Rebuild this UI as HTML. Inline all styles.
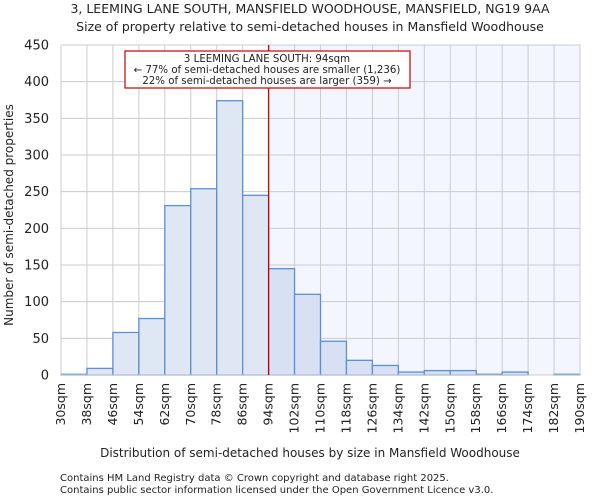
<!DOCTYPE html>
<html><head><meta charset="utf-8"><style>
body{margin:0;background:#fff;font-family:"DejaVu Sans","Liberation Sans",sans-serif;}
svg text{font-family:"DejaVu Sans","Liberation Sans",sans-serif;fill:#222;}
</style></head><body>
<svg id="chart" width="600" height="500">
<text x="310" y="13" font-size="12.5" text-anchor="middle">3, LEEMING LANE SOUTH, MANSFIELD WOODHOUSE, MANSFIELD, NG19 9AA</text>
<text x="310" y="31" font-size="12.5" text-anchor="middle">Size of property relative to semi-detached houses in Mansfield Woodhouse</text>
<g id="plot"></g>
<text x="310" y="457" font-size="12" text-anchor="middle">Distribution of semi-detached houses by size in Mansfield Woodhouse</text>
<text transform="translate(13,215) rotate(-90)" font-size="12" text-anchor="middle">Number of semi-detached properties</text>
<text x="60" y="481" font-size="10">Contains HM Land Registry data © Crown copyright and database right 2025.</text>
<text x="60" y="493" font-size="10">Contains public sector information licensed under the Open Government Licence v3.0.</text>
</svg>
<script>
const binStarts=[30,38,46,54,62,70,78,86,94,102,110,118,126,134,142,150,158,166,174,182];
const counts=[1,9,58,77,231,254,374,245,145,110,46,20,13,4,6,6,1,4,0,1];
const xTicks=["30sqm","38sqm","46sqm","54sqm","62sqm","70sqm","78sqm","86sqm","94sqm","102sqm","110sqm","118sqm","126sqm","134sqm","142sqm","150sqm","158sqm","166sqm","174sqm","182sqm","190sqm"];
const yTicks=[0,50,100,150,200,250,300,350,400,450];
const propertySize=94;
const binWidth=8;
const L=61,R=580,T=45,B=375,xMin=30,xMax=190,yMax=450;
const X=v=>L+(v-xMin)/(xMax-xMin)*(R-L);
const Y=v=>B-v/yMax*(B-T);
const NS="http://www.w3.org/2000/svg";
const g=document.getElementById('plot');
function el(t,a){const e=document.createElementNS(NS,t);for(const k in a)e.setAttribute(k,a[k]);g.appendChild(e);return e;}
let bg=el('rect',{x:X(propertySize),y:T,width:R-X(propertySize),height:B-T,fill:'#f3f6fe'});


yTicks.forEach(v=>{
 let l=el('line',{x1:L,x2:R,y1:Y(v),y2:Y(v),stroke:'#cccccc','stroke-width':1});
 
 
 let t=el('text',{x:L-12,y:Y(v)+4.5,'font-size':13,'text-anchor':'end'});t.textContent=v;
 
 
});
xTicks.forEach((s,i)=>{
 const xv=X(xMin+i*binWidth);
 let l=el('line',{x1:xv,x2:xv,y1:T,y2:B,stroke:'#cccccc','stroke-width':1});
 
 
 let t=el('text',{x:0,y:0,'font-size':12.5,'text-anchor':'end',transform:`translate(${xv+4},${B+8}) rotate(-90)`});t.textContent=s;
 
 
});
binStarts.forEach((s,i)=>{
 const x0=X(s),x1=X(s+binWidth);
 let r=el('rect',{x:x0,y:Y(counts[i]),width:x1-x0,height:B-Y(counts[i]),fill:s>=propertySize?'#d7e1f3':'#dfe7f4',stroke:'#5b8fd6','stroke-width':1.3});
 
 
});
let ax=el('rect',{x:L,y:T,width:R-L,height:B-T,fill:'none',stroke:'#cccccc'});


let ml=el('line',{x1:X(propertySize),x2:X(propertySize),y1:T,y2:B,stroke:'#cc0000','stroke-width':1.3});


let box=el('rect',{x:125,y:51,width:285,height:37,fill:'#fff',stroke:'#cc0000','stroke-width':1.2});


["3 LEEMING LANE SOUTH: 94sqm","← 77% of semi-detached houses are smaller (1,236)","22% of semi-detached houses are larger (359) →"].forEach((s,i)=>{
 let t=el('text',{x:267,y:62+i*11,'font-size':10.2,'text-anchor':'middle'});t.textContent=s;
 
 
});
</script>
</body></html>
